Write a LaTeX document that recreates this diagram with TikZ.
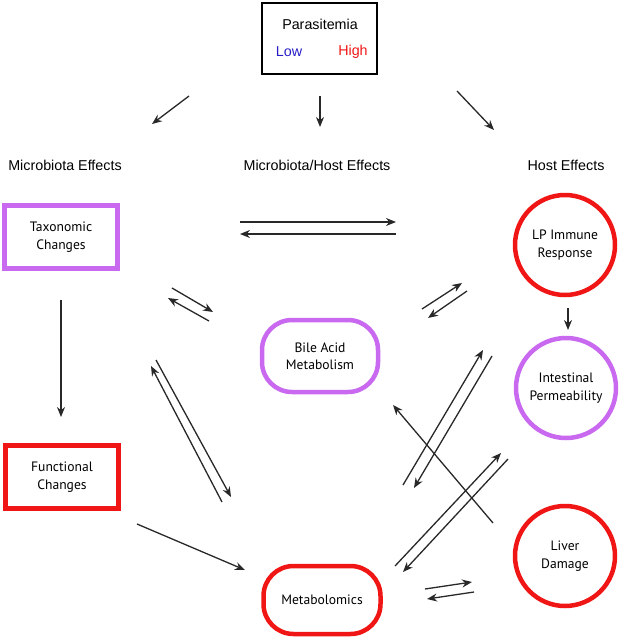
\documentclass[tikz,border=0pt]{standalone}
\usepackage{fontspec}
\setmainfont{Liberation Sans}
\newfontfamily\nodefont{PT Sans}
\usetikzlibrary{arrows.meta}
\definecolor{lilac}{RGB}{200,105,240}
\definecolor{hired}{RGB}{240,22,22}
\definecolor{lowblue}{RGB}{40,30,200}
\definecolor{arrowgray}{RGB}{40,40,40}
\begin{document}
\begin{tikzpicture}[x=1pt,y=-1pt,
 heading/.style={font=\fontsize{14.3}{17}\selectfont},
 lab/.style={font=\nodefont\fontsize{13.6}{17.5}\selectfont, align=center, text=black},
 sqbox/.style={lab, draw, line width=4.5pt, minimum width=113pt, minimum height=63pt, inner sep=0pt},
 pillbox/.style={lab, draw, line width=4.5pt, rounded corners=30pt, minimum width=116pt, minimum height=72pt, inner sep=0pt},
 circ/.style={lab, draw, circle, line width=4.5pt, minimum size=100pt, inner sep=0pt},
 arr/.style={draw=arrowgray, line width=1.3pt, -{Stealth[length=10pt,width=8pt]}}
]
\useasboundingbox (0,0) rectangle (622,640);

% top box
\node[draw, line width=1.5pt, minimum width=115pt, minimum height=71pt, inner sep=0pt] (param) at (319.5,38.5) {};
\node[heading] (paratext) at (320,24) {Parasitemia};
\node[heading, text=lowblue] (low) at (289,52) {Low};
\node[heading, text=hired] (high) at (353,52) {High};

% headings
\node[heading] (hmic) at (65,165) {Microbiota Effects};
\node[heading] (hmh) at (317,165) {Microbiota/Host Effects};
\node[heading] (hhost) at (566,165) {Host Effects};

% nodes
\node[sqbox, draw=lilac] (tax) at (61,237) {Taxonomic\\Changes};
\node[sqbox, draw=hired] (func) at (62,477) {Functional\\Changes};
\node[pillbox, draw=lilac] (bile) at (320,356) {Bile Acid\\Metabolism};
\node[pillbox, draw=hired, minimum width=117pt, minimum height=68pt] (metab) at (322,600) {Metabolomics};
\node[circ, draw=hired] (lp) at (565,245) {LP Immune\\Response};
\node[circ, draw=lilac] (intp) at (566,388) {Intestinal\\Permeability};
\node[circ, draw=hired] (liver) at (565,556) {Liver\\Damage};

% arrow end points
\coordinate (a1s) at (189,96);  \coordinate (a1e) at (152,124);
\coordinate (a2s) at (320,96);  \coordinate (a2e) at (320,127);
\coordinate (a3s) at (457,91);  \coordinate (a3e) at (494,130);
\coordinate (h1s) at (240,222); \coordinate (h1e) at (396,222);
\coordinate (h2s) at (396,234); \coordinate (h2e) at (240,234);
\coordinate (v1s) at (61,300);  \coordinate (v1e) at (61,417);
\coordinate (t1s) at (172,288); \coordinate (t1e) at (213,312);
\coordinate (t2s) at (209,321); \coordinate (t2e) at (168,298);
\coordinate (l1s) at (156,360); \coordinate (l1e) at (231,497);
\coordinate (l2s) at (222,502); \coordinate (l2e) at (151,366);
\coordinate (f1s) at (137,524); \coordinate (f1e) at (245,570);
\coordinate (b1s) at (422,309); \coordinate (b1e) at (462,283);
\coordinate (b2s) at (467,291); \coordinate (b2e) at (428,318);
\coordinate (c1s) at (403,485); \coordinate (c1e) at (483,350);
\coordinate (c2s) at (492,356); \coordinate (c2e) at (414,488);
\coordinate (d1s) at (493,523); \coordinate (d1e) at (393,405);
\coordinate (e1s) at (395,566); \coordinate (e1e) at (501,453);
\coordinate (e2s) at (508,459); \coordinate (e2e) at (403,572);
\coordinate (g1s) at (425,589); \coordinate (g1e) at (472,582);
\coordinate (g2s) at (474,592); \coordinate (g2e) at (427,599);
\coordinate (v2s) at (568,308); \coordinate (v2e) at (568,330);

\foreach \n in {a1,a2,a3,h1,h2,v1,t1,t2,l1,l2,f1,b1,b2,c1,c2,d1,e1,e2,g1,g2,v2}
  \draw[arr] (\n s) -- (\n e);
\end{tikzpicture}
\end{document}
